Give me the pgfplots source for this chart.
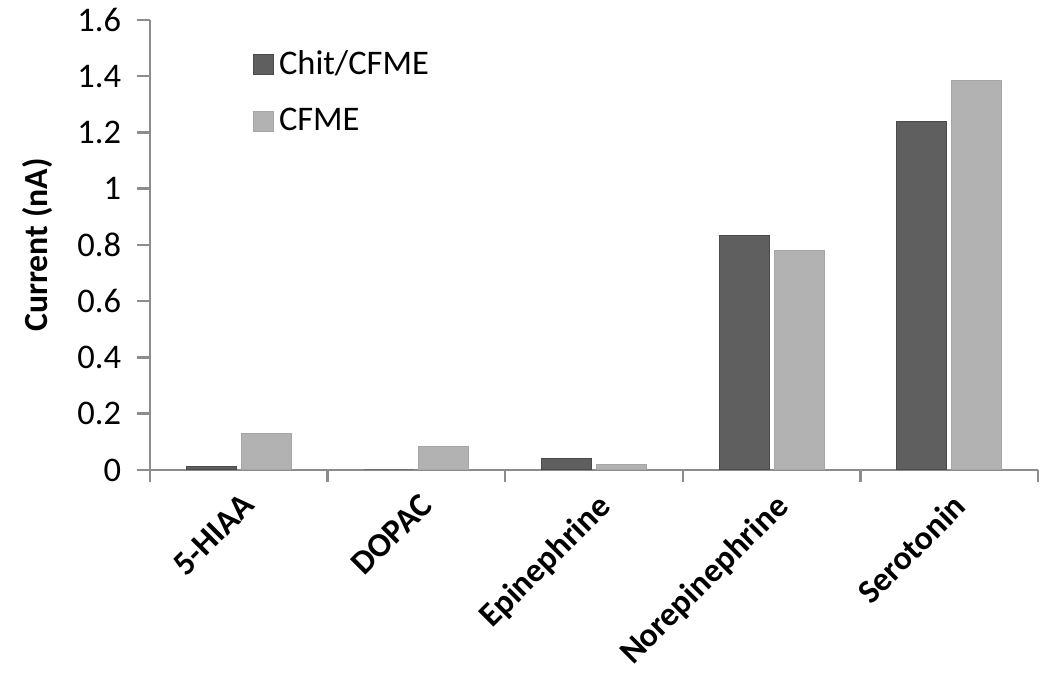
\documentclass[border=0pt]{standalone}
\usepackage{fontspec}
\setmainfont{Carlito}
\usepackage{pgfplots}
\pgfplotsset{compat=1.18}

\definecolor{chit}{HTML}{5F5F5F}
\definecolor{chitedge}{HTML}{4A4A4A}
\definecolor{cfme}{HTML}{B2B2B2}
\definecolor{cfmeedge}{HTML}{A6A6A6}
\definecolor{axisgray}{HTML}{8C8C8C}

\begin{document}
\begin{tikzpicture}
\path[use as bounding box] (-60pt,-86.4pt) rectangle (360pt,188pt);
\begin{axis}[
  at={(0,0)}, anchor=south west,
  scale only axis,
  width=355.2pt, height=180pt,
  ybar, bar width=20pt,
  xmin=-0.5, xmax=4.5,
  ymin=0, ymax=1.6,
  ytick={0,0.2,...,1.6},
  xtick={0,1,2,3,4},
  xticklabels={5-HIAA,DOPAC,Epinephrine,Norepinephrine,Serotonin},
  minor xtick={-0.5,0.5,1.5,2.5,3.5,4.5},
  major x tick style={draw=none},
  minor tick length=5pt,
  major tick length=5pt,
  tick align=outside,
  axis lines*=left,
  axis line style={axisgray, line width=1pt},
  every tick/.style={axisgray, line width=1pt},
  every minor tick/.style={axisgray, line width=1pt},
  /pgf/number format/assume math mode=true,
  tick label style={font=\fontsize{13.8}{16}\selectfont},
  y tick label style={xshift=-3pt},
  x tick label style={font=\fontsize{13.5}{16}\selectfont\bfseries, rotate=45, anchor=north east, inner sep=2pt, yshift=-1pt},
  ylabel={\bfseries Current (nA)},
  ylabel style={font=\fontsize{13.5}{16}\selectfont},
  ylabel shift=3pt,
  legend style={at={(0.107,0.955)}, anchor=north west, draw=none, fill=none,
    font=\fontsize{13.8}{16}\selectfont, row sep=8pt},
  legend cell align=left,
  legend image code/.code={\fill[#1] (0pt,-4pt) rectangle (8pt,4pt);},
]
\addplot[fill=chit, draw=chitedge] coordinates {(0,0.012) (1,0) (2,0.04) (3,0.835) (4,1.24)};
\addplot[fill=cfme, draw=cfmeedge] coordinates {(0,0.13) (1,0.085) (2,0.02) (3,0.78) (4,1.385)};
\legend{Chit/CFME,CFME}
\end{axis}
\end{tikzpicture}
\end{document}
